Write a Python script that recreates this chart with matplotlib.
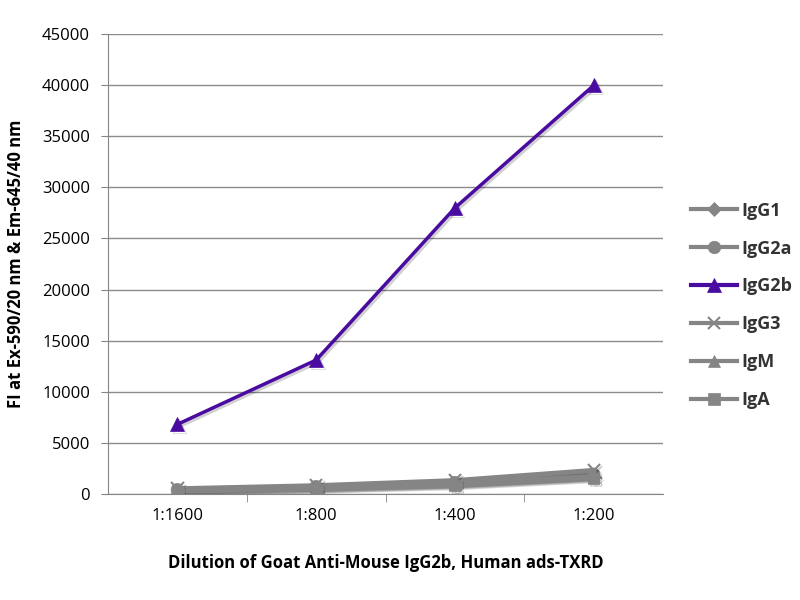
import matplotlib.pyplot as plt
import matplotlib.patheffects as pe

# dilutions on the x axis
dilutions = ['1:1600', '1:800', '1:400', '1:200']

# fluorescence intensity per isotype
igg1 = [300, 500, 900, 1600]
igg2a = [400, 700, 1100, 1900]
igg2b = [6800, 13100, 28000, 40000]
igg3 = [500, 800, 1300, 2300]
igm = [350, 600, 1000, 1700]
iga = [250, 450, 800, 1500]

y_ticks = [0, 5000, 10000, 15000, 20000, 25000, 30000, 35000, 40000, 45000]

plt.rcParams['font.family'] = ['Open Sans', 'DejaVu Sans']

fig = plt.figure(figsize=(8, 6), dpi=100)
ax = fig.add_axes([0.135, 0.177, 0.694, 0.766])

gray = '#858585'
purple = '#4a0ca0'
shadow = [pe.SimpleLineShadow(offset=(1.5, -1.5), shadow_color='black', alpha=0.18), pe.Normal()]

x = list(range(len(dilutions)))
series = [
    ('IgG1', igg1, 'D', gray, 7),
    ('IgG2a', igg2a, 'o', gray, 9),
    ('IgG2b', igg2b, '^', purple, 10),
    ('IgG3', igg3, 'x', gray, 9),
    ('IgM', igm, '^', gray, 9),
    ('IgA', iga, 's', gray, 8),
]
for name, vals, mk, col, ms in series:
    lw = 2.5 if col == purple else 3.5
    ax.plot(x, vals, color=col, marker=mk, markersize=ms, linewidth=lw,
            markeredgewidth=1.5 if mk == 'x' else 0.5, markeredgecolor=col,
            label=name, path_effects=shadow, zorder=3)

ax.set_xlim(-0.5, 3.5)
ax.set_ylim(0, 45000)
ax.set_yticks(y_ticks)
ax.set_yticklabels([str(v) for v in y_ticks], fontsize=12)
ax.set_xticks(x)
ax.set_xticklabels(dilutions, fontsize=12)
ax.set_xticks([0.5, 1.5, 2.5], minor=True)
ax.tick_params(axis='x', which='major', length=0, pad=10)
ax.tick_params(axis='x', which='minor', length=6, color=gray)
ax.tick_params(axis='y', length=5, color=gray, pad=8)

ax.grid(axis='y', color='#8c8c8c', linewidth=1)
ax.set_axisbelow(True)
for s in ['top', 'right']:
    ax.spines[s].set_visible(False)
for s in ['left', 'bottom']:
    ax.spines[s].set_color(gray)

ax.set_xlabel('Dilution of Goat Anti-Mouse IgG2b, Human ads-TXRD', fontsize=12,
              fontweight='bold', labelpad=22)
ax.set_ylabel('FI at Ex-590/20 nm & Em-645/40 nm', fontsize=12,
              fontweight='bold', labelpad=12)

leg = ax.legend(loc='center left', bbox_to_anchor=(1.02, 0.41), frameon=False,
                prop={'weight': 'bold', 'size': 13}, labelspacing=1.1,
                handlelength=2.6, handletextpad=0.2)
for t in leg.get_texts():
    t.set_color('#333333')
for h in leg.get_lines():
    h.set_linewidth(3)
    h.set_path_effects([])

fig.savefig('out.png', dpi=100)
